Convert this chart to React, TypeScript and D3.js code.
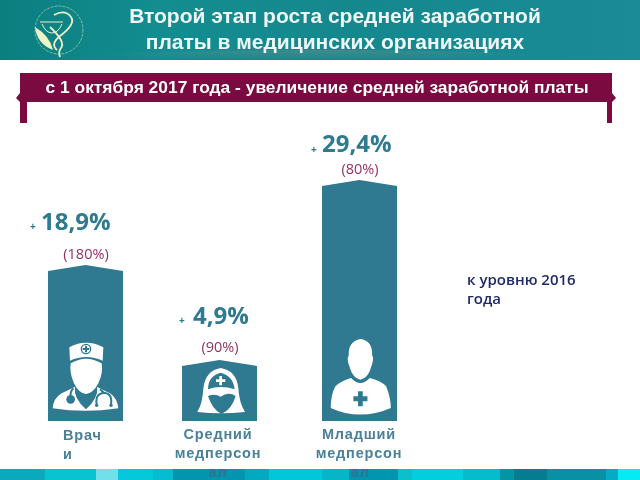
import React from "react";
import * as d3 from "d3";

const categories = ["Врачи", "Средний медперсонал", "Младший медперсонал"];
const categoryLines = [["Врач", "и"], ["Средний", "медперсон", "ал"], ["Младший", "медперсон", "ал"]];
const growth = ["18,9%", "4,9%", "29,4%"];
const relative = ["(180%)", "(90%)", "(80%)"];
const barHeights = [150, 55, 235];
const stripColors = ["#0aa9bb", "#08c4d0", "#72e0e8", "#05c8da", "#05bcd0", "#0295ad", "#03a9c0", "#02c6da", "#04b6c8", "#0295b0", "#0cbfcc", "#02cedd", "#04bccc", "#0495a5", "#067c90", "#0890a4", "#06aac4", "#05eaf5"];
const stripWeights = [45, 51, 22, 35, 20, 72, 24, 53, 27, 49, 14, 51, 37, 14, 33, 59, 12, 22];

const W = 640, H = 480;
const TEAL = "#2f7a90";
const MAROON = "#7a0a3f";
const SANS = "'Liberation Sans', Arial, sans-serif";
const CAL = "'Open Sans', 'Noto Sans', sans-serif";

const xPos = d3.scaleOrdinal<string, number>().domain(categories).range([48, 182, 322]);
const barW = 75;
const y = d3.scaleLinear().domain([0, 235]).range([421, 186]);

const stripX = d3.scaleLinear().domain([0, d3.sum(stripWeights)]).range([0, W]);
const stripCum = d3.cumsum(stripWeights);

function barPath(x0: number, top: number) {
  const p = d3.path();
  p.moveTo(x0, 421);
  p.lineTo(x0, top);
  p.lineTo(x0 + barW / 2, top - 6);
  p.lineTo(x0 + barW, top);
  p.lineTo(x0 + barW, 421);
  p.closePath();
  return p.toString();
}

function Doctor() {
  return (
    <g transform="translate(30,330) scale(0.3333)">
      <path fill="#fff" d="M118 52 Q168 25 220 52 L218 92 Q168 70 120 92 Z" />
      <circle cx="168" cy="57" r="14" fill="#fff" stroke={TEAL} strokeWidth="4" />
      <path d="M168 47 V67 M158 57 H178" stroke={TEAL} strokeWidth="6" />
      <path fill="#fff" d="M122 100 Q168 72 215 100 Q220 130 205 160 Q190 190 168 192 Q146 190 132 160 Q118 130 122 100 Z" />
      <path fill="#fff" d="M135 170 Q115 180 95 190 Q70 205 68 235 Q165 250 265 235 Q262 205 240 190 Q215 178 202 170 Q205 205 168 238 Q130 205 135 170 Z" />
      <path d="M130 175 Q120 185 122 200" fill="none" stroke={TEAL} strokeWidth="6" />
      <circle cx="122" cy="208" r="13" fill={TEAL} />
      <path d="M210 178 L222 188 M200 225 Q195 190 222 188 Q248 190 243 225" fill="none" stroke={TEAL} strokeWidth="6" />
      <circle cx="200" cy="226" r="5" fill={TEAL} />
      <circle cx="243" cy="226" r="5" fill={TEAL} />
    </g>
  );
}

function Nurse() {
  return (
    <g transform="translate(180,360) scale(0.3333)">
      <path fill="#fff" d="M52 156 Q68 130 70 85 Q76 32 122 24 Q170 32 175 85 Q178 130 195 156 Q122 164 52 156 Z" />
      <path fill={TEAL} d="M84 88 Q84 48 122 38 Q160 48 164 88 Q122 74 84 88 Z" />
      <path d="M122 48 V76 M108 62 H136" stroke="#fff" strokeWidth="8" />
      <path fill={TEAL} d="M84 108 Q105 100 122 110 Q145 94 167 108 Q155 150 124 162 Q98 150 84 108 Z" />
    </g>
  );
}

function Junior() {
  return (
    <g transform="translate(321.4,328.2) scale(0.78,0.83)">
      <path fill="#fff" d="M35 33 Q34 16 50 13 Q66 15 65 33 Q68 36 64 46 Q60 60 50 62 Q40 60 36 46 Q32 38 35 33 Z" />
      <path fill="#fff" d="M38 60 Q50 72 62 60 Q78 64 83 70 Q89 84 89 96 Q70 104 50 104 Q30 104 12 96 Q12 80 18 70 Q24 64 38 60 Z" />
      <path d="M50 76 V94 M41 85 H59" stroke={TEAL} strokeWidth="6" />
    </g>
  );
}

const Icons = [Doctor, Nurse, Junior];

export default function App() {
  return (
    <svg width={W} height={H} viewBox={`0 0 ${W} ${H}`} style={{ position: "fixed", left: 0, top: 0, background: "#fff" }}>
      <defs>
        <linearGradient id="hdr" x1="0" x2="1" y1="0" y2="0">
          <stop offset="0" stopColor="#0b7e80" />
          <stop offset="0.25" stopColor="#138d90" />
          <stop offset="0.55" stopColor="#15888e" />
          <stop offset="1" stopColor="#1a8b97" />
        </linearGradient>
        <radialGradient id="shadow" cx="0.5" cy="0" r="0.5">
          <stop offset="0" stopColor="#888" stopOpacity="0.45" />
          <stop offset="1" stopColor="#888" stopOpacity="0" />
        </radialGradient>
        <filter id="soft"><feGaussianBlur stdDeviation="0.35" /></filter>
      </defs>

      <rect width={W} height={60} fill="url(#hdr)" />
      <ellipse cx={320} cy={60} rx={260} ry={10} fill="url(#shadow)" />

      <g fill="none" stroke="#e9f2c6" filter="url(#soft)">
        <circle cx={59} cy={30} r={24} strokeOpacity={0.5} strokeDasharray="3 1" />
        <path d="M40 22 H63 M42 24 Q46 33 52 33 Q58 33 62 24" strokeWidth={1} />
        <path d="M60 36 Q76 24 71 17 Q65 9 54 15 M50 27 Q66 42 61 48 Q58 52 60 57 M60 36 Q50 44 57 50" strokeWidth={1.8} />
      </g>
      <path d="M35 27 Q37 44 53 50 Q50 36 35 27 Z" fill="#eef3c6" />

      <g fontFamily={SANS} fontWeight="bold" fontSize={21} fill="#eef7f5" textAnchor="middle" filter="url(#soft)">
        <text x={335} y={23}>Второй этап роста средней заработной</text>
        <text x={335} y={49}>платы в медицинских организациях</text>
      </g>

      <path fill={MAROON} d="M20 73 H612 V93 L616 98 L612 102 V123 H607 V102 H27 V123 H20 V102 L16 98 L20 93 Z" />
      <text x={317} y={93} fontFamily={SANS} fontWeight="bold" fontSize={17.4} fill="#fff" textAnchor="middle" filter="url(#soft)">
        с 1 октября 2017 года - увеличение средней заработной платы
      </text>

      {stripWeights.map((w, i) => (
        <rect key={i} x={stripX(i ? stripCum[i - 1] : 0)} y={469} width={stripX(w)} height={11} fill={stripColors[i]} />
      ))}

      {categories.map((c, i) => {
        const Icon = Icons[i];
        return (
          <g key={c}>
            <path d={barPath(xPos(c), y(barHeights[i]))} fill={TEAL} />
            <Icon />
          </g>
        );
      })}

      <g fontFamily={SANS} fontWeight="bold" fontSize={14.5} fill="#4a8198" letterSpacing={0.8} filter="url(#soft)">
        <text x={63} y={440}>{categoryLines[0][0]}</text>
        <text x={63} y={459}>{categoryLines[0][1]}</text>
        <text x={218} y={439} textAnchor="middle">{categoryLines[1][0]}</text>
        <text x={218} y={458} textAnchor="middle">{categoryLines[1][1]}</text>
        <text x={218} y={477} textAnchor="middle" fill="#33708c" opacity={0.85}>{categoryLines[1][2]}</text>
        <text x={359} y={439} textAnchor="middle">{categoryLines[2][0]}</text>
        <text x={359} y={458} textAnchor="middle">{categoryLines[2][1]}</text>
        <text x={360} y={477} textAnchor="middle" fill="#33708c" opacity={0.85}>{categoryLines[2][2]}</text>
      </g>

      <g fontFamily={CAL} fontWeight="700" fill={TEAL} filter="url(#soft)">
        <text x={30} y={230} fontSize={10}>+</text>
        <text x={41} y={230} fontSize={24}>{growth[0]}</text>
        <text x={179} y={324} fontSize={10}>+</text>
        <text x={193} y={324} fontSize={24}>{growth[1]}</text>
        <text x={311} y={153} fontSize={10}>+</text>
        <text x={322} y={152} fontSize={24}>{growth[2]}</text>
      </g>
      <g fontFamily={CAL} fontSize={14.5} fill={MAROON} fillOpacity={0.85} textAnchor="middle" filter="url(#soft)">
        <text x={86} y={259}>{relative[0]}</text>
        <text x={220} y={352}>{relative[1]}</text>
        <text x={360} y={174}>{relative[2]}</text>
      </g>
      <g fontFamily={CAL} fontWeight="600" fontSize={15} fill="#1f2a6b" filter="url(#soft)">
        <text x={467} y={285}>к уровню 2016</text>
        <text x={467} y={304}>года</text>
      </g>
    </svg>
  );
}
